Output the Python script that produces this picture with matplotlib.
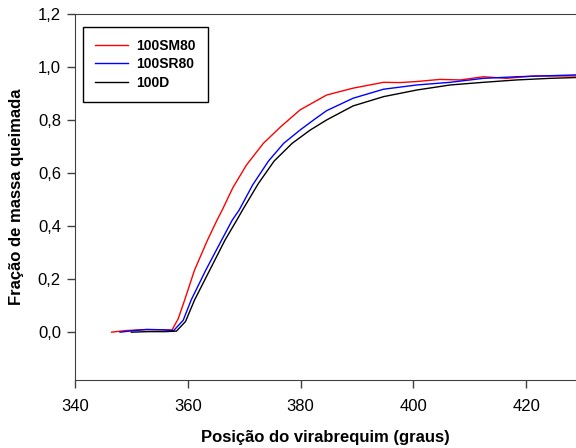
import numpy as np
import matplotlib
matplotlib.use("Agg")
import matplotlib.pyplot as plt
from matplotlib.ticker import FuncFormatter

plt.rcParams['font.family'] = ['Liberation Sans', 'DejaVu Sans']

# crank angle (deg) / mass fraction burned
sm80_x = [346.5, 349.0, 352.7, 355.5, 357.2, 358.3, 359.45, 361.2, 363.5, 365.2,
          366.1, 368.0, 370.4, 373.4, 376.5, 379.9, 384.6, 389.3, 394.7, 397.6,
          400.6, 404.7, 408.3, 412.4, 416.5, 421.3, 428.8]
sm80_y = [0.000, 0.006, 0.010, 0.009, 0.008, 0.050, 0.121, 0.234, 0.347, 0.423,
          0.460, 0.545, 0.630, 0.712, 0.775, 0.838, 0.894, 0.920, 0.942, 0.941,
          0.945, 0.953, 0.951, 0.963, 0.957, 0.966, 0.966]

sr80_x = [348.0, 350.5, 352.7, 355.5, 357.5, 359.2, 360.6, 363.2, 366.0, 367.9,
          369.1, 371.5, 374.3, 377.0, 379.9, 382.3, 384.6, 389.3, 394.7, 400.6,
          406.5, 412.4, 418.3, 428.8]
sr80_y = [0.000, 0.006, 0.010, 0.009, 0.006, 0.045, 0.121, 0.234, 0.347, 0.423,
          0.460, 0.555, 0.645, 0.712, 0.762, 0.800, 0.835, 0.882, 0.916, 0.932,
          0.942, 0.957, 0.963, 0.970]

d100_x = [350.0, 353.0, 356.0, 358.0, 359.6, 361.2, 363.9, 366.6, 368.7, 369.7,
          372.5, 375.3, 378.5, 381.7, 384.6, 389.3, 394.7, 400.6, 406.5, 412.4,
          418.3, 424.2, 428.8]
d100_y = [0.000, 0.002, 0.002, 0.004, 0.040, 0.121, 0.234, 0.347, 0.423, 0.460,
          0.560, 0.645, 0.712, 0.762, 0.800, 0.853, 0.888, 0.913, 0.932, 0.942,
          0.951, 0.957, 0.960]

fig = plt.figure(figsize=(5.76, 4.48), dpi=100)
ax = fig.add_axes([0.130, 0.152, 0.870, 0.817])

ax.plot(sm80_x, sm80_y, color='#ff0000', lw=1.0, label='100SM80')
ax.plot(sr80_x, sr80_y, color='#0000ff', lw=1.0, label='100SR80')
ax.plot(d100_x, d100_y, color='#000000', lw=1.0, label='100D')

ax.set_xlim(340, 428.8)
ax.set_ylim(-0.18, 1.2)
ax.set_xticks([340, 360, 380, 400, 420])
ax.set_yticks([0.0, 0.2, 0.4, 0.6, 0.8, 1.0, 1.2])
ax.yaxis.set_major_formatter(FuncFormatter(lambda v, p: f'{v:.1f}'.replace('.', ',')))
ax.tick_params(direction='out', length=6, width=1, labelsize=12, color='#404040')
ax.tick_params(axis='x', pad=8)
ax.tick_params(axis='y', pad=4)
ax.spines['right'].set_visible(False)
for s in ['left', 'top', 'bottom']:
    ax.spines[s].set_color('#404040')

ax.set_xlabel('Posição do virabrequim (graus)', fontsize=12, fontweight='bold', labelpad=11)
ax.set_ylabel('Fração de massa queimada', fontsize=12, fontweight='bold', labelpad=10)

leg = ax.legend(loc='upper left', bbox_to_anchor=(0.016, 0.9645), borderaxespad=0,
                fancybox=False, edgecolor='black', framealpha=1,
                prop={'weight': 'bold', 'size': 10},
                handlelength=2.4, handletextpad=0.6, borderpad=0.85, labelspacing=0.33)
leg.get_frame().set_linewidth(1.0)

fig.savefig('out.png', dpi=100)
